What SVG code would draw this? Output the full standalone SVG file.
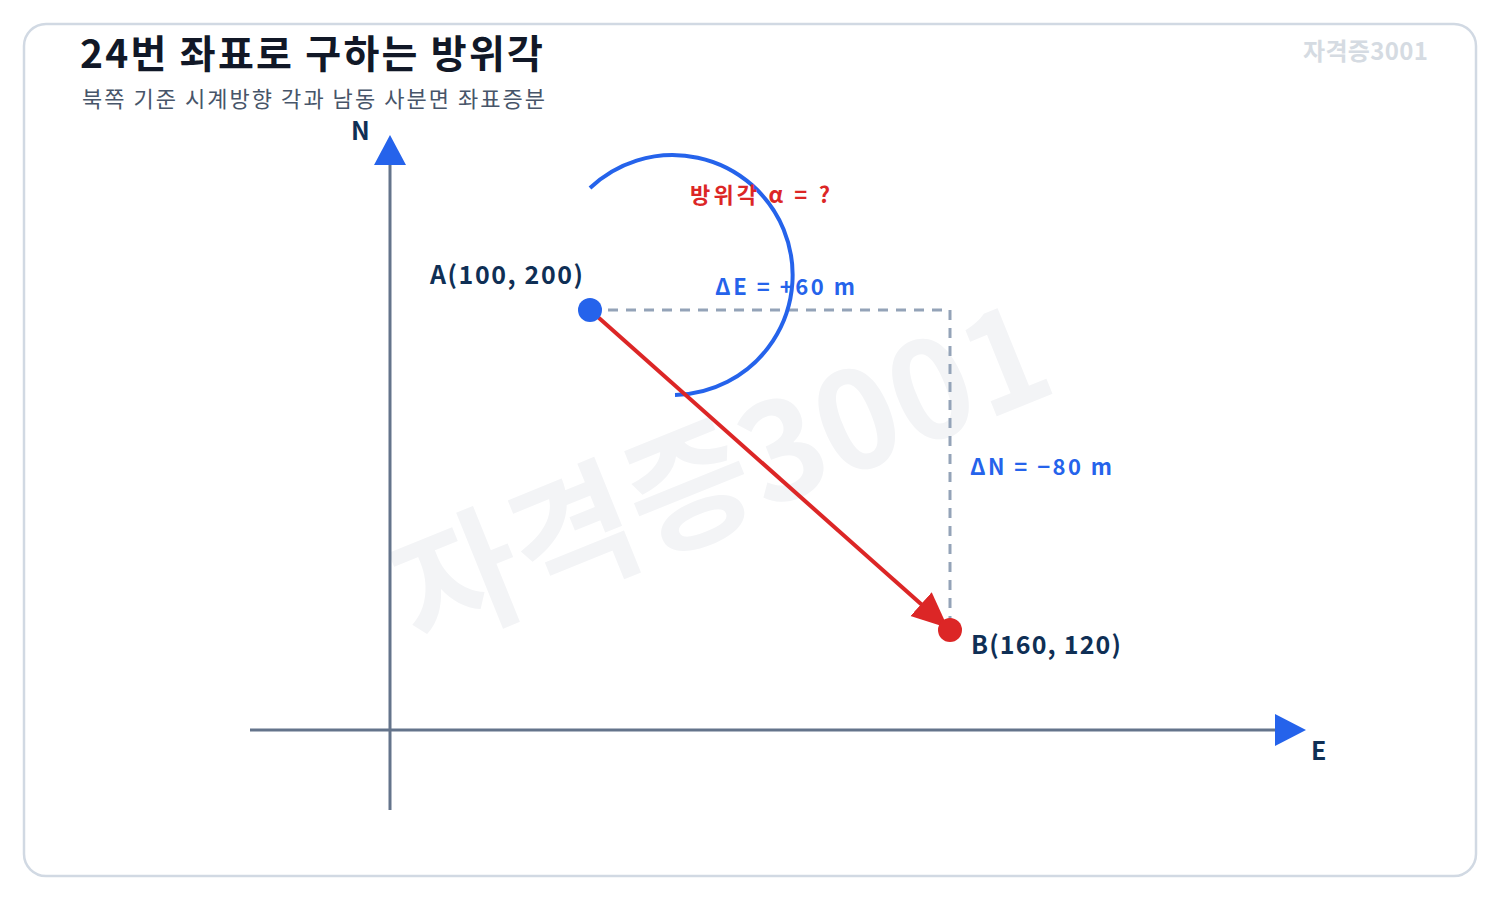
<svg xmlns="http://www.w3.org/2000/svg" width="1500" height="900" viewBox="0 0 1500 900">
<defs>
<style>
text{font-family:"Noto Sans CJK KR","Noto Sans",sans-serif}
.title{font-size:39px;font-weight:700;fill:#111827}
.sub{font-size:22px;fill:#475569}
.lbl{font-size:25px;font-weight:700;fill:#0f2f55}
.blue{font-size:22px;font-weight:700;fill:#2563eb}
.red{font-size:22px;font-weight:700;fill:#dc2626}
.axis{stroke:#64748b;stroke-width:3;fill:none}
.dash{stroke:#94a3b8;stroke-width:3;stroke-dasharray:10 8;fill:none}
</style>
<marker id="redArrow" markerUnits="userSpaceOnUse" markerWidth="40" markerHeight="34" refX="36" refY="16" orient="auto"><path d="M0,0 L36,16 L0,32 Z" fill="#dc2626"/></marker>
</defs>
<rect x="0" y="0" width="1500" height="900" fill="#ffffff"/>
<rect x="24" y="24" width="1452" height="852" rx="22" fill="#ffffff" stroke="#d1d9e3" stroke-width="2.5"/>
<text x="720" y="522" text-anchor="middle" transform="rotate(-22 725 470)" style="font-size:135px;font-weight:700;fill:#f3f4f6">자격증3001</text>
<text class="title" x="80" y="68" textLength="463" lengthAdjust="spacing">24번 좌표로 구하는 방위각</text>
<text class="sub" x="82" y="107" textLength="463" lengthAdjust="spacing">북쪽 기준 시계방향 각과 남동 사분면 좌표증분</text>
<text x="1303" y="60" textLength="125" lengthAdjust="spacing" style="font-size:24px;font-weight:700;fill:#d5dbe2">자격증3001</text>
<g id="axes">
<line class="axis" x1="390" y1="810" x2="390" y2="162"/>
<polygon points="390,135 374,165 406,165" fill="#2563eb"/>
<line class="axis" x1="250" y1="730" x2="1278" y2="730"/>
<polygon points="1306,730 1275,714 1275,746" fill="#2563eb"/>
<text class="lbl" x="351" y="140">N</text>
<text class="lbl" x="1311" y="760">E</text>
</g>
<g id="connectors">
<path class="dash" d="M590,310 H950 V630"/>
<path d="M590,188 A120,120 0 1 1 675,395" fill="none" stroke="#2563eb" stroke-width="4"/>
<line x1="590" y1="310" x2="948" y2="628" stroke="#dc2626" stroke-width="4" marker-end="url(#redArrow)"/>
</g>
<g id="nodeA">
<circle cx="590" cy="310" r="12" fill="#2563eb"/>
<text class="lbl" x="430" y="284" textLength="153" lengthAdjust="spacing">A(100, 200)</text>
</g>
<g id="nodeB">
<circle cx="950" cy="630" r="12" fill="#dc2626"/>
<text class="lbl" x="971" y="654" textLength="150" lengthAdjust="spacing">B(160, 120)</text>
</g>
<g id="labels">
<text class="red" x="690" y="203" textLength="140" lengthAdjust="spacing" xml:space="preserve">방위각 α = ?</text>
<text class="blue" x="715" y="295" textLength="140" lengthAdjust="spacing" xml:space="preserve">ΔE = +60 m</text>
<text class="blue" x="970" y="475" textLength="142" lengthAdjust="spacing" xml:space="preserve">ΔN = −80 m</text>
</g>
</svg>
